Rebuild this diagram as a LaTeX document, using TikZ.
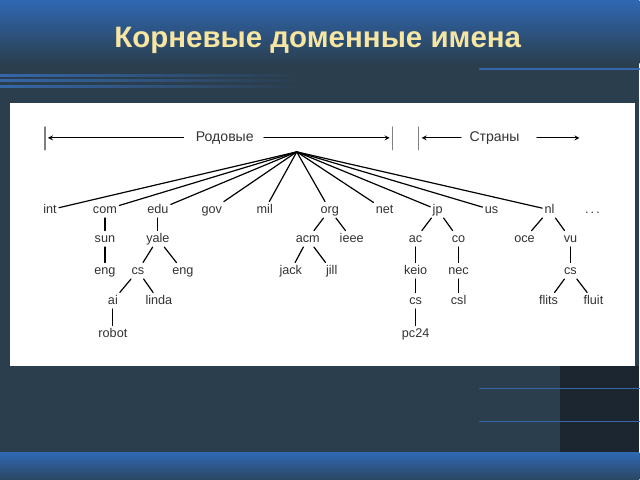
\documentclass[tikz,border=0pt]{standalone}
\usepackage{fontspec}
\setmainfont{Liberation Sans}
\definecolor{bgslate}{HTML}{2B3E4E}
\definecolor{topblue}{HTML}{2F68B2}
\definecolor{stripe}{HTML}{3567A8}
\definecolor{darkpanel}{HTML}{1C2630}
\definecolor{titlegold}{HTML}{F6E6A2}
\definecolor{inkgray}{HTML}{333333}
\begin{document}
\begin{tikzpicture}[x=0.025cm,y=-0.025cm,>=stealth, font=\fontsize{9}{10}\selectfont, line join=round, line cap=round,
	lbl/.style={text=inkgray, inner sep=1.5pt, text height=6.5pt, text depth=1.8pt},
	hdr/.style={text=inkgray, font=\fontsize{10}{12}\selectfont, inner sep=0pt},
	edge/.style={line width=0.85pt}]
	% background
	\fill[bgslate] (0,0) rectangle (640,480);
	\shade[top color=topblue, bottom color=bgslate] (0,0) rectangle (640,64);
	\draw[stripe, line width=0.8pt] (480,69)--(640,69);
	\foreach \y in {75,80,86}
	{
		\shade[left color=stripe, right color=bgslate] (0,\y) rectangle (300,\y+1.2);
	}
	\fill[white] (10,103) rectangle (636,366);
	\fill[darkpanel] (560,366) rectangle (640,453);
	\foreach \y in {389,422}
	{
		\draw[stripe, line width=0.8pt] (480,\y)--(640,\y);
	}
	\shade[top color=topblue, bottom color=bgslate!80!topblue] (0,453) rectangle (640,480);
	\node[text=titlegold, font=\fontsize{21}{24}\selectfont\bfseries] (title) at (318,40) {Корневые доменные имена};
	
	% header
	\node[hdr] (rod) at (225,138) {Родовые};
	\node[hdr] (str) at (495,138) {Страны};
	\path (45,127)coordinate(A1) --++(0,23)coordinate(A2)
	(393,127)coordinate(B1) --++(0,23)coordinate(B2)
	(419,127)coordinate(C1) --++(0,23)coordinate(C2)
	(48,138)coordinate(L1) (390,138)coordinate(L2) (422,138)coordinate(L3) (580,138)coordinate(L4);
	\foreach \p/\q in {A1/A2,B1/B2,C1/C2}
	{
		\draw[gray, line width=0.8pt] (\p)--(\q);
	}
	\draw[->, line width=0.6pt] (rod.west) ++(-12,0) -- (L1);
	\draw[->, line width=0.6pt] (rod.east) ++(10,0) -- (L2);
	\draw[->, line width=0.6pt] (str.west) ++(-8,0) -- (L3);
	\draw[->, line width=0.6pt] (str.east) ++(17,0) -- (L4);
	
	% tree
	\coordinate (root) at (297,152);
	\foreach \n/\x/\y/\t in {int/50/210/int, com/105/210/com, edu/158/210/edu, gov/212/210/gov, mil/265/210/mil,
		org/330/210/org, net/385/210/net, jp/438/210/jp, us/492/210/us, nl/550/210/nl, dots/593/210/{.\,.\,.},
		sun/105/239/sun, yale/158/239/yale, acm/308/239/acm, ieee/352/239/ieee, ac/416/239/ac, co/459/239/co, oce/525/239/oce, vu/571/239/vu,
		comeng/105/271/eng, yalecs/138/271/cs, yaleeng/183/271/eng, jack/291/271/jack, jill/332/271/jill, keio/416/271/keio, nec/459/271/nec, vucs/571/271/cs,
		ai/113/301/ai, linda/159/301/linda, keiocs/416/301/cs, csl/459/301/csl, flits/549/301/flits, fluit/594/301/fluit,
		robot/113/334/robot, pc24/416/334/pc24}
	{
		\node[lbl] (\n) at (\x,\y) {\t};
	}
	\foreach \n in {int,com,edu,gov,mil,org,net,jp,us,nl}
	{
		\draw[edge] (root)--(\n);
	}
	\foreach \a/\b in {com/sun, edu/yale, org/acm, org/ieee, jp/ac, jp/co, nl/oce, nl/vu,
		sun/comeng, yale/yalecs, yale/yaleeng, acm/jack, acm/jill, ac/keio, co/nec, vu/vucs,
		yalecs/ai, yalecs/linda, keio/keiocs, nec/csl, vucs/flits, vucs/fluit, ai/robot, keiocs/pc24}
	{
		\draw[edge] (\a)--(\b);
	}
\end{tikzpicture}
\end{document}
